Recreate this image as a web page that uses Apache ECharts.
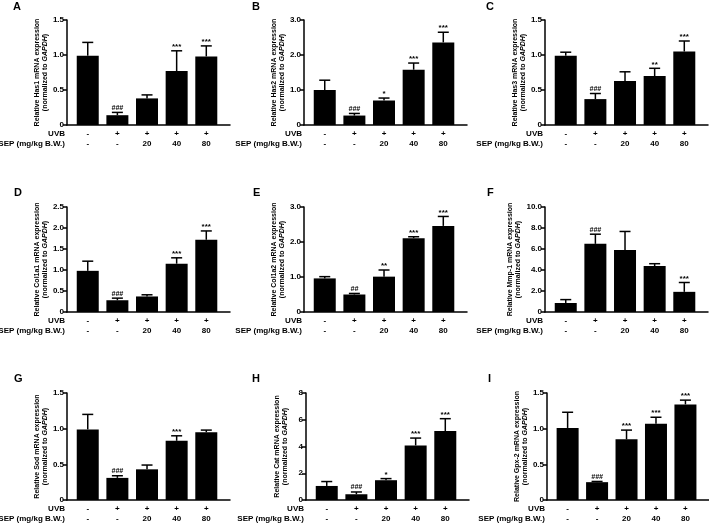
<!DOCTYPE html>
<html>
<head>
<meta charset="utf-8">
<script src="https://cdn.jsdelivr.net/npm/echarts@6/dist/echarts.min.js"></script>
<style>html,body{margin:0;padding:0;background:#fff}#c{width:709px;height:524px}</style>
</head>
<body>
<div id="c"></div>
<script>
// ---- data ----
const uvbLabels = ['-', '+', '+', '+', '+'];
const sepLabels = ['-', '-', '20', '40', '80'];
const panelLetters = ['A','B','C','D','E','F','G','H','I'];
const genes = ['Has1','Has2','Has3','Col1a1','Col1a2','Mmp-1','Sod','Cat','Gpx-2'];

const meansA = [0.99, 0.14, 0.38, 0.77, 0.98];
const errA   = [0.19, 0.04, 0.05, 0.29, 0.15];
const meansB = [1.00, 0.27, 0.70, 1.58, 2.36];
const errB   = [0.28, 0.06, 0.07, 0.19, 0.29];
const meansC = [0.99, 0.37, 0.63, 0.70, 1.05];
const errC   = [0.05, 0.08, 0.13, 0.11, 0.15];
const meansD = [0.98, 0.28, 0.37, 1.15, 1.72];
const errD   = [0.23, 0.05, 0.04, 0.14, 0.21];
const meansE = [0.96, 0.50, 1.01, 2.11, 2.46];
const errE   = [0.05, 0.03, 0.19, 0.04, 0.27];
const meansF = [0.86, 6.49, 5.91, 4.38, 1.92];
const errF   = [0.32, 0.92, 1.76, 0.22, 0.89];
const meansG = [0.99, 0.31, 0.43, 0.83, 0.95];
const errG   = [0.21, 0.03, 0.06, 0.07, 0.03];
const meansH = [1.05, 0.43, 1.48, 4.08, 5.15];
const errH   = [0.33, 0.17, 0.12, 0.55, 0.93];
const meansI = [1.01, 0.25, 0.85, 1.07, 1.34];
const errI   = [0.22, 0.01, 0.13, 0.09, 0.06];

const annA = ['', '###', '', '***', '***'];
const annB = ['', '###', '*', '***', '***'];
const annC = ['', '###', '', '**', '***'];
const annD = ['', '###', '', '***', '***'];
const annE = ['', '##', '**', '***', '***'];
const annF = ['', '###', '', '', '***'];
const annG = ['', '###', '', '***', ''];
const annH = ['', '###', '*', '***', '***'];
const annI = ['', '###', '***', '***', '***'];

const yMax      = [1.5, 3, 1.5, 2.5, 3, 10, 1.5, 8, 1.5];
const yInterval = [0.5, 1, 0.5, 0.5, 1, 2, 0.5, 2, 0.5];
const yDecimals = [1, 1, 1, 1, 1, 1, 1, 0, 1];

const allMeans = [meansA, meansB, meansC, meansD, meansE, meansF, meansG, meansH, meansI];
const allErr   = [errA, errB, errC, errD, errE, errF, errG, errH, errI];
const allAnn   = [annA, annB, annC, annD, annE, annF, annG, annH, annI];

// ---- layout ----
const FONT = "'Liberation Sans', Arial, sans-serif";
const gridLefts = [67, 304, 545, 67, 304, 545, 67, 306, 547];
const gridTops = [20, 20, 20, 207, 207, 207, 393, 393, 393];
const gridHeights = [105, 105, 105, 105, 105, 105, 107, 107, 107];
const gridWidth = 163;
const letterPos = [[13,1],[252,1],[486,1],[14,187],[253,187],[487,187],[14,373],[252,373],[488,373]];

const grids = [], xAxes = [], yAxes = [], series = [], graphics = [];

for (let p = 0; p < 9; p++) {
  grids.push({ left: gridLefts[p], top: gridTops[p], width: gridWidth, height: gridHeights[p], containLabel: false });
  xAxes.push({
    type: 'value', gridIndex: p, min: -0.7, max: 4.8,
    splitLine: { show: false },
    axisTick: { show: false },
    axisLine: { show: true, onZero: false, lineStyle: { color: '#000', width: 1.5 } },
    axisLabel: {
      customValues: [0, 1, 2, 3, 4],
      formatter: v => uvbLabels[v] + '\n' + sepLabels[v],
      color: '#000', fontSize: 8, fontWeight: 'bold', fontFamily: FONT,
      lineHeight: 10, margin: 4
    }
  });
  const d = yDecimals[p];
  yAxes.push({
    type: 'value', gridIndex: p, min: 0, max: yMax[p], interval: yInterval[p],
    splitLine: { show: false },
    axisLine: { show: true, onZero: false, lineStyle: { color: '#000', width: 1.5 } },
    axisTick: { show: true, length: 4, lineStyle: { color: '#000', width: 1.5 } },
    axisLabel: {
      formatter: v => v === 0 ? '0' : v.toFixed(d),
      color: '#000', fontSize: 8, fontWeight: 'bold', fontFamily: FONT, margin: 3
    },
    name: 'Relative ' + genes[p] + ' mRNA expression\n(normalized to {i|GAPDH})',
    nameLocation: 'middle', nameRotate: 90, nameGap: 17,
    nameTextStyle: {
      color: '#000', fontSize: 7, fontWeight: 'bold', fontFamily: FONT, lineHeight: 8,
      rich: { i: { fontStyle: 'italic', fontWeight: 'bold', fontSize: 7, fontFamily: FONT, color: '#000', lineHeight: 8 } }
    }
  });
  const means = allMeans[p], errs = allErr[p], anns = allAnn[p];
  series.push({
    type: 'bar', xAxisIndex: p, yAxisIndex: p, barWidth: 22,
    itemStyle: { color: '#000' },
    data: means.map((m, i) => [i, m]),
    silent: true, animation: false
  });
  series.push({
    type: 'custom', xAxisIndex: p, yAxisIndex: p, z: 5, animation: false, silent: true,
    encode: { x: 0, y: [1, 2] },
    data: means.map((m, i) => [i, m, m + errs[i]]),
    renderItem: (params, api) => {
      const x = api.value(0), m = api.value(1), t = api.value(2);
      const p0 = api.coord([x, m]), p1 = api.coord([x, t]);
      const cap = 5.5;
      const ann = anns[params.dataIndex];
      const children = [
        { type: 'line', shape: { x1: p0[0], y1: p0[1], x2: p1[0], y2: p1[1] }, style: { stroke: '#000', lineWidth: 1.5 } },
        { type: 'line', shape: { x1: p1[0] - cap, y1: p1[1], x2: p1[0] + cap, y2: p1[1] }, style: { stroke: '#000', lineWidth: 1.5 } }
      ];
      if (ann) {
        const isHash = ann.charAt(0) === '#';
        children.push({
          type: 'text', x: p1[0], y: p1[1] - (isHash ? 1 : 0),
          style: { text: ann, textAlign: 'center', textVerticalAlign: 'bottom', fill: '#000',
                   font: (isHash ? 'italic bold 7px ' : 'bold 8px ') + FONT }
        });
      }
      return { type: 'group', children };
    }
  });
  // row headers
  const axisX = gridLefts[p];
  const axisY = gridTops[p] + gridHeights[p];
  graphics.push({ type: 'text', x: axisX - 2, y: axisY + 9, silent: true,
    style: { text: 'UVB', textAlign: 'right', textVerticalAlign: 'middle', fill: '#000', font: 'bold 8px ' + FONT } });
  graphics.push({ type: 'text', x: axisX - 2, y: axisY + 19, silent: true,
    style: { text: 'SEP (mg/kg B.W.)', textAlign: 'right', textVerticalAlign: 'middle', fill: '#000', font: 'bold 8px ' + FONT } });
  graphics.push({ type: 'text', x: letterPos[p][0], y: letterPos[p][1], silent: true,
    style: { text: panelLetters[p], textAlign: 'left', textVerticalAlign: 'top', fill: '#000', font: 'bold 11px ' + FONT } });
}

const chart = echarts.init(document.getElementById('c'), null, { renderer: 'canvas' });
chart.setOption({
  backgroundColor: '#fff',
  animation: false,
  grid: grids, xAxis: xAxes, yAxis: yAxes, series: series,
  graphic: graphics
});
</script>
</body>
</html>
